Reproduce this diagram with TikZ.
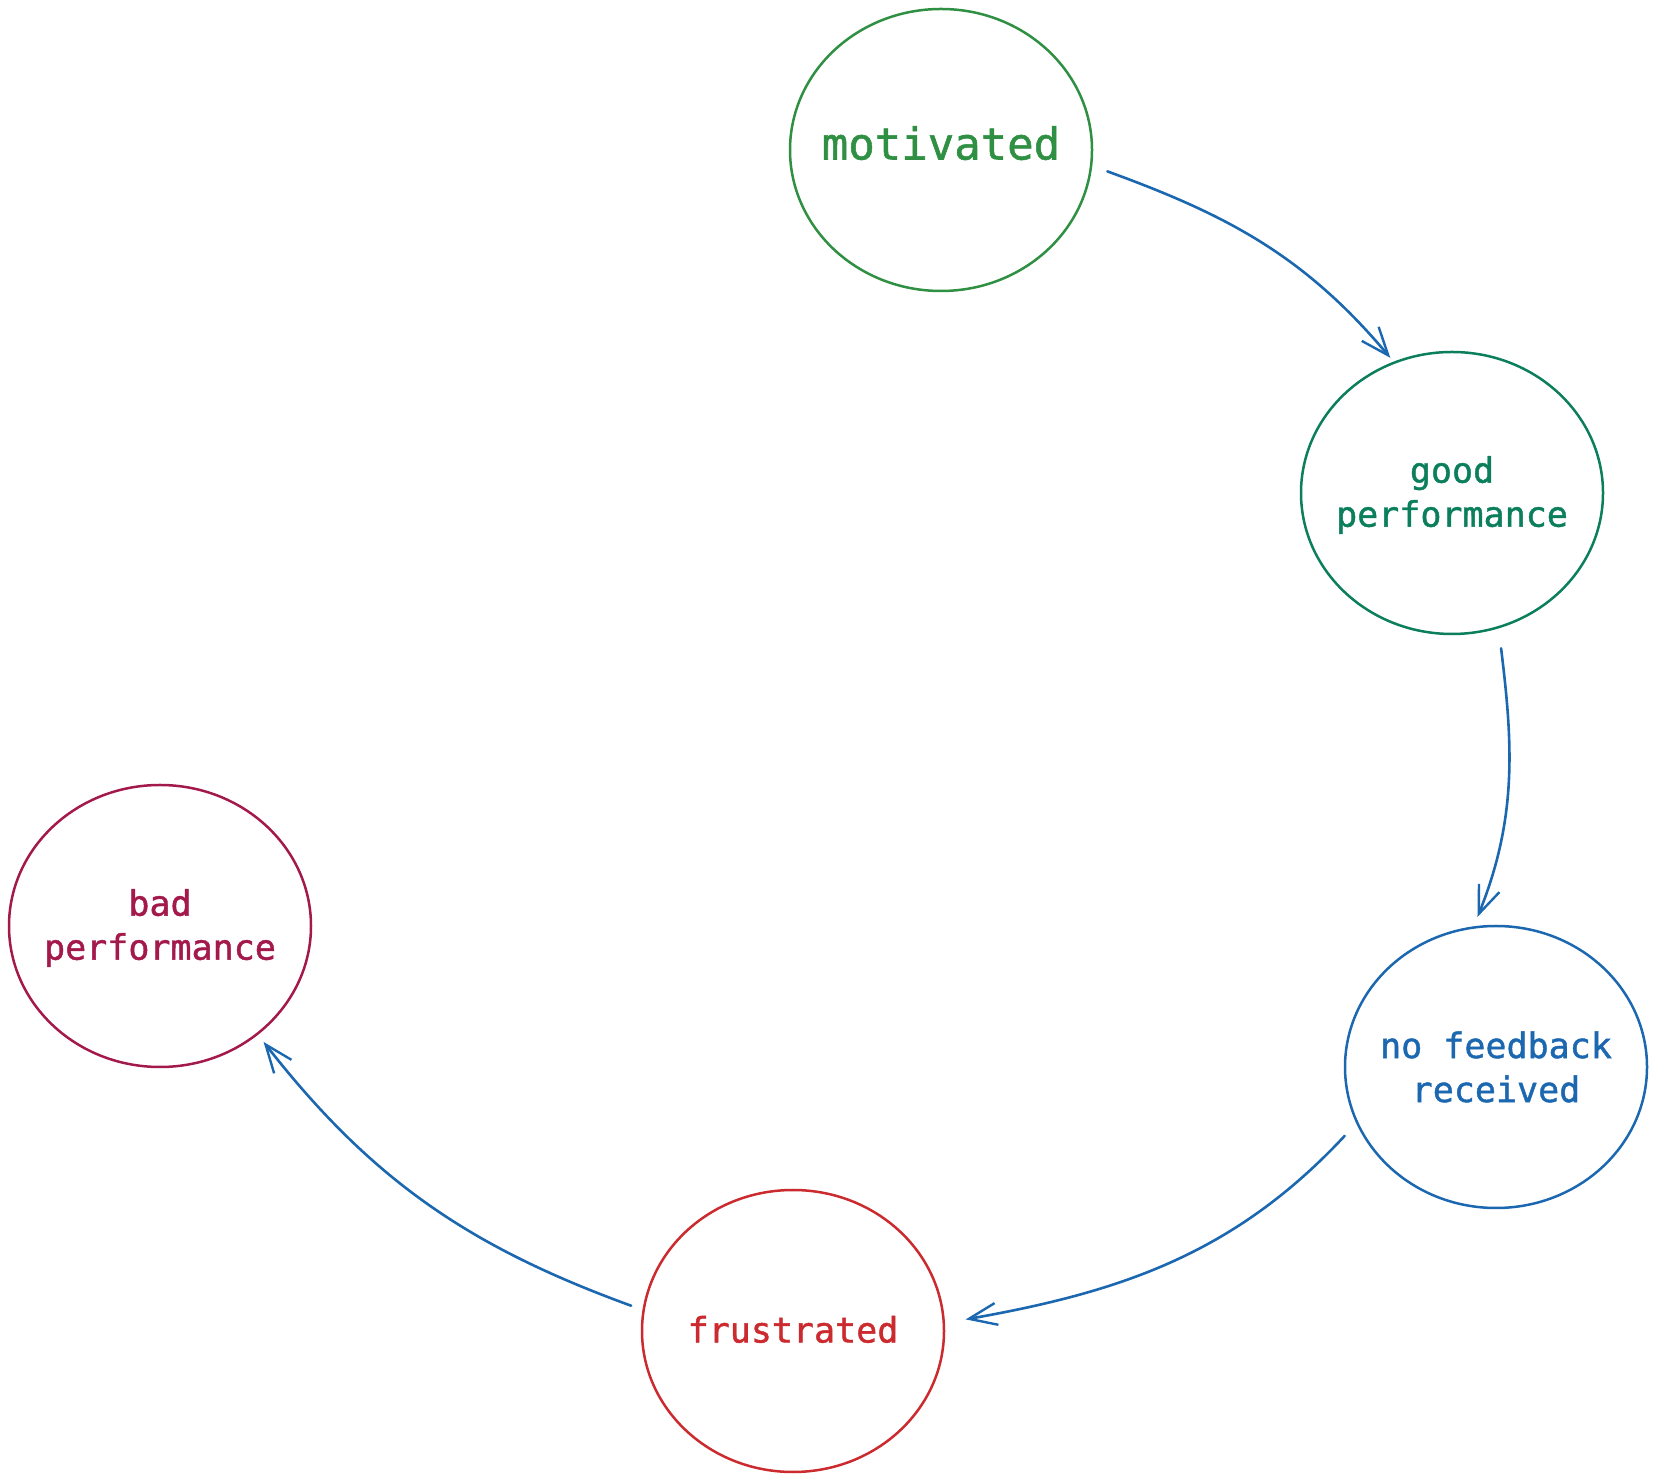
\documentclass[tikz,border=0pt]{standalone}
\usepackage{fontspec}
\newfontfamily\codefont{DejaVu Sans Mono}[FakeBold=1.2]
\usetikzlibrary{shapes.geometric,arrows.meta}
\definecolor{cmot}{HTML}{2F8F42}
\definecolor{cgood}{HTML}{0B7E5C}
\definecolor{cblue}{HTML}{1C68B0}
\definecolor{cfrus}{HTML}{CB2B2E}
\definecolor{cbad}{HTML}{A3194B}
\begin{document}
\begin{tikzpicture}[x=1pt,y=1pt,
  state/.style={ellipse, draw, line width=2.5pt, minimum width=302pt, minimum height=282pt,
    inner sep=0pt},
  txt/.style={align=center, inner sep=0pt, font=\codefont\fontsize{35}{44}\selectfont},
  single/.style={text height=0.75em, text depth=0.25em},
  flow/.style={draw=cblue, line width=2.6pt, line cap=round,
    -{Straight Barb[length=28pt,width=22pt,line width=2.4pt]}}]
\useasboundingbox (0,0) rectangle (1657,1481);
\node[state, draw=cmot] (mot) at (941,1331) {};
\node[state, draw=cgood] (good) at (1452,988) {};
\node[state, draw=cblue] (nofb) at (1496,414) {};
\node[state, draw=cfrus] (frus) at (793,150) {};
\node[state, draw=cbad] (bad) at (160,555) {};
\node[txt, single, text=cmot, font=\codefont\fontsize{44}{52}\selectfont] (motT) at ([yshift=-7pt]mot.center) {motivated};
\node[txt, text=cgood] (goodT) at ([yshift=-2pt]good.center) {good\\performance};
\node[txt, text=cblue] (nofbT) at (nofb.center) {no feedback\\received};
\node[txt, single, text=cfrus] (frusT) at ([yshift=-9pt]frus.center) {frustrated};
\node[txt, text=cbad] (badT) at ([yshift=-2pt]bad.center) {bad\\performance};
\draw[flow, shorten <=16pt, shorten >=5pt] (mot.-6) to[out=-20,in=130] (good.114);
\draw[flow, shorten <=20pt, shorten >=10pt] (good.-71) to[out=-83,in=68] (nofb.99);
\draw[flow, shorten <=17pt, shorten >=21pt] (nofb.202) to[out=-133,in=10] (frus.3);
\draw[flow, shorten <=12pt, shorten >=9pt] (frus.172) to[out=160,in=-52] (bad.-48);
\end{tikzpicture}
\end{document}
